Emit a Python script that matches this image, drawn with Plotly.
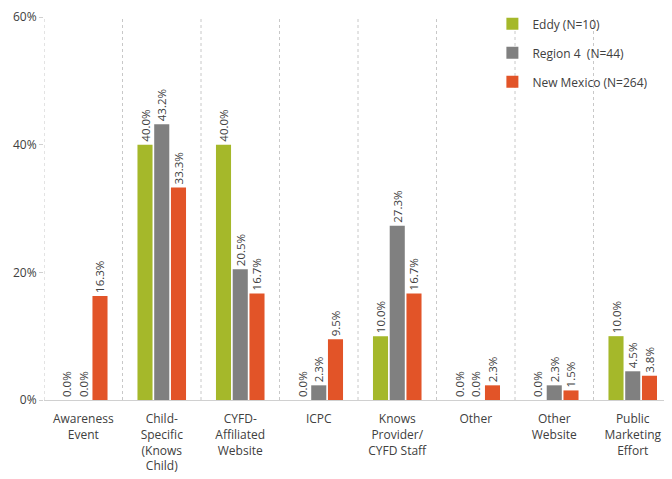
import plotly.graph_objects as go

categories = ["Awareness<br>Event", "Child-<br>Specific<br>(Knows<br>Child)", "CYFD-<br>Affiliated<br>Website",
              "ICPC", "Knows<br>Provider/<br>CYFD Staff", "Other", "Other<br>Website",
              "Public<br>Marketing<br>Effort"]
eddy = [0.0, 40.0, 40.0, 0.0, 10.0, 0.0, 0.0, 10.0]
region4 = [0.0, 43.2, 20.5, 2.3, 27.3, 0.0, 2.3, 4.5]
new_mexico = [16.3, 33.3, 16.7, 9.5, 16.7, 2.3, 1.5, 3.8]

series = [
    ("Eddy (N=10)", eddy, "#A5B82A"),
    ("Region 4  (N=44)", region4, "#808080"),
    ("New Mexico (N=264)", new_mexico, "#E25428"),
]

fig = go.Figure()
for name, vals, col in series:
    fig.add_trace(go.Bar(
        x=list(range(len(categories))), y=vals, name=name, legendgroup=name,
        marker=dict(color=col, line=dict(width=0)),
        text=[f"{v:.1f}%" for v in vals],
        textposition="outside", textangle=-90,
        textfont=dict(size=11.5, color="#404040"),
        cliponaxis=False,
    ))

# dotted separators between categories (first one doubles as the y axis line)
shapes = []
for i in range(len(categories)):
    shapes.append(dict(type="line", xref="x", yref="y", x0=i - 0.5, x1=i - 0.5, y0=0, y1=60,
                       line=dict(color="#C8C8C8", width=1, dash="dot")))

# page body has an 8px margin, so the figure is 8px smaller and margins shifted
fig.update_layout(
    width=664, height=471,
    margin=dict(l=36, r=0, t=9, b=79),
    plot_bgcolor="white", paper_bgcolor="white",
    font=dict(family="Open Sans, Noto Sans, sans-serif", size=12, color="#404040"),
    barmode="group", bargap=0.36, bargroupgap=0.1,
    shapes=shapes,
    showlegend=True,
    legend=dict(x=0.714, y=1.02, xanchor="left", yanchor="top",
                font=dict(size=12, color="#404040"), itemwidth=30,
                tracegroupgap=10, bgcolor="rgba(0,0,0,0)"),
    uniformtext=dict(minsize=10, mode="show"),
)
fig.update_xaxes(
    tickmode="array", tickvals=list(range(len(categories))), ticktext=categories,
    range=[-0.5, len(categories) - 0.5],
    showline=True, linecolor="#D0D0D0", linewidth=1, ticks="",
    ticklabelstandoff=8,
    showgrid=False, tickfont=dict(size=12, color="#404040"),
)
fig.update_yaxes(
    range=[0, 60], tickvals=[0, 20, 40, 60], ticktext=["0%", "20%", "40%", "60%"],
    showgrid=False, zeroline=False, showline=False, ticks="outside", ticklen=4,
    tickcolor="#D0D0D0", tickfont=dict(size=12, color="#404040"),
)

fig.write_html("out.html")
